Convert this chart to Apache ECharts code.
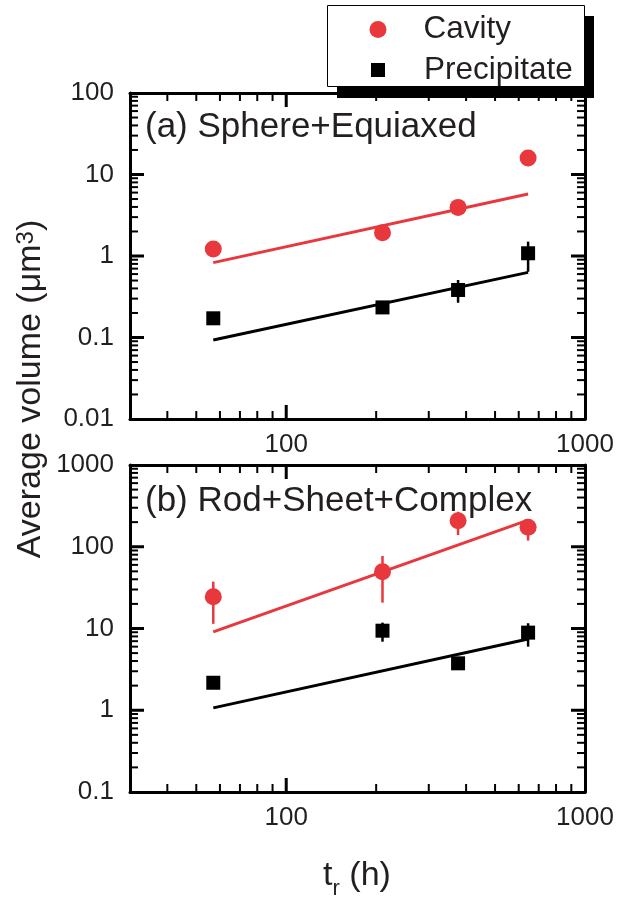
<!DOCTYPE html>
<html><head><meta charset="utf-8">
<script src="https://cdn.jsdelivr.net/npm/echarts@6/dist/echarts.min.js"></script>
<style>html,body{margin:0;padding:0;background:#fff}#c{width:619px;height:898px}</style>
</head><body><div id="c"></div>
<script>
// ---- data ----
const tHours = [57, 210, 376, 645];
// panel (a) Sphere+Equiaxed
const cavA = [1.22, 1.93, 3.95, 15.9];
const precA = [0.172, 0.234, 0.383, 1.08];
const precALow = [0.15, 0.22, 0.267, 0.64];
const precAHigh = [0.19, 0.25, 0.508, 1.50];
// panel (b) Rod+Sheet+Complex
const cavB = [24.5, 49.5, 208, 173];
const cavBLow = [11.4, 20.7, 139, 119];
const cavBHigh = [37.4, 77, 268, 218];
const precB = [2.17, 9.4, 3.75, 8.9];
const precBLow = [1.95, 6.9, 3.5, 6.0];
const precBHigh = [2.4, 11.8, 4.0, 11.6];
// fitted lines
const fitT = [57, 645];
const fitCavA = [0.83, 5.77];
const fitPrecA = [0.093, 0.63];
const fitCavB = [9.1, 212];
const fitPrecB = [1.07, 7.45];
// axes
const xRange = [30, 1000];
const xMajor = [100, 1000];
const xMajorLabels = ['100', '1000'];
const xMinor = [40, 50, 60, 70, 80, 90, 200, 300, 400, 500, 600, 700, 800, 900];
const yTicksA = [0.01, 0.1, 1, 10, 100];
const yLabelsA = ['0.01', '0.1', '1', '10', '100'];
const yTicksB = [0.1, 1, 10, 100, 1000];
const yLabelsB = ['0.1', '1', '10', '100', '1000'];
const minorMult = [2, 3, 4, 5, 6, 7, 8, 9];

// ---- style ----
const FONT = '"Liberation Sans", Arial, Helvetica, sans-serif';
const TXT = '#231f20';
const RED = '#e8373d';
const BLK = '#000';
const MAJ_LEN = 14, MIN_LEN = 8;

function minorsOf(ticks) {
  const out = [];
  for (let i = 0; i < ticks.length - 1; i++) minorMult.forEach(m => out.push(+(ticks[i] * m).toPrecision(6)));
  return out;
}
function fmt(v, vals, labels) {
  for (let i = 0; i < vals.length; i++) if (Math.abs(Math.log10(v) - Math.log10(vals[i])) < 1e-6) return labels[i];
  return '';
}
function lineOn() { return {show: true, onZero: false, lineStyle: {color: BLK, width: 3}}; }

function xAxesFor(g) {
  const mk = () => ({type: 'log', logBase: 10, min: xRange[0], max: xRange[1], gridIndex: g,
    splitLine: {show: false}, minorSplitLine: {show: false}, minorTick: {show: false},
    axisLine: lineOn(), axisTick: {show: false}});
  return [
    Object.assign(mk(), {position: 'bottom',
      axisLabel: {show: true, customValues: xMajor, margin: 13, fontSize: 26, color: TXT, fontFamily: FONT,
        formatter: v => fmt(v, xMajor, xMajorLabels)}}),
    Object.assign(mk(), {position: 'top', axisLabel: {show: false}})
  ];
}
function yAxesFor(g, ticks, labels) {
  const mk = () => ({type: 'log', logBase: 10, min: ticks[0], max: ticks[ticks.length - 1], gridIndex: g,
    splitLine: {show: false}, minorSplitLine: {show: false}, minorTick: {show: false},
    axisLine: lineOn(), axisTick: {show: false}});
  return [
    Object.assign(mk(), {position: 'left',
      axisLabel: {show: true, customValues: ticks, margin: 16, fontSize: 26, color: TXT, fontFamily: FONT,
        formatter: v => fmt(v, ticks, labels)}}),
    Object.assign(mk(), {position: 'right', axisLabel: {show: false}})
  ];
}

// inward tick marks. Items are interior points [x, y]; the tick value is placed through the
// axis' own log scale and the frame edge is found with api.coord at the axis limits.
function tickSeries(xi, yi, yTicks, pts, side, len, width) {
  const yLo = yTicks[0], yHi = yTicks[yTicks.length - 1];
  return {type: 'custom', xAxisIndex: xi, yAxisIndex: yi, z: 3, silent: true,
    encode: {x: 0, y: 1}, data: pts,
    renderItem: (params, api) => {
      const vx = api.value(0), vy = api.value(1);
      const p = api.coord([vx, vy]);
      let x1, y1, x2, y2;
      if (side === 'L' || side === 'R') {
        x1 = api.coord([side === 'L' ? xRange[0] : xRange[1], vy])[0];
        x2 = side === 'L' ? x1 + len : x1 - len;
        y1 = y2 = p[1];
      } else {
        y1 = api.coord([vx, side === 'B' ? yLo : yHi])[1];
        y2 = side === 'B' ? y1 - len : y1 + len;
        x1 = x2 = p[0];
      }
      return {type: 'line', shape: {x1: x1, y1: y1, x2: x2, y2: y2}, style: {stroke: BLK, lineWidth: width}};
    }};
}
function allTicks(xi, yi, yTicks) {
  const xMid = Math.sqrt(xRange[0] * xRange[1]);
  const yMid = Math.sqrt(yTicks[0] * yTicks[yTicks.length - 1]);
  const inner = vals => vals.filter(v => v > yTicks[0] && v < yTicks[yTicks.length - 1]);
  const yMaj = inner(yTicks), yMin = minorsOf(yTicks);
  const xMaj = xMajor.filter(v => v > xRange[0] && v < xRange[1]);
  const yPts = vals => vals.map(v => [xMid, v]);
  const xPts = vals => vals.map(v => [v, yMid]);
  return [
    tickSeries(xi, yi, yTicks, yPts(yMaj), 'L', MAJ_LEN, 3),
    tickSeries(xi, yi, yTicks, yPts(yMaj), 'R', MAJ_LEN, 3),
    tickSeries(xi, yi, yTicks, yPts(yMin), 'L', MIN_LEN, 2),
    tickSeries(xi, yi, yTicks, yPts(yMin), 'R', MIN_LEN, 2),
    tickSeries(xi, yi, yTicks, xPts(xMaj), 'B', MAJ_LEN, 3),
    tickSeries(xi, yi, yTicks, xPts(xMaj), 'T', MAJ_LEN, 3),
    tickSeries(xi, yi, yTicks, xPts(xMinor), 'B', MIN_LEN, 2),
    tickSeries(xi, yi, yTicks, xPts(xMinor), 'T', MIN_LEN, 2)
  ];
}
function errSeries(xi, yi, xs, lo, hi, color) {
  return {type: 'custom', xAxisIndex: xi, yAxisIndex: yi, z: 3, silent: true,
    data: xs.map((t, i) => [t, lo[i], hi[i]]), encode: {x: 0, y: [1, 2]},
    renderItem: (params, api) => {
      const p1 = api.coord([api.value(0), api.value(1)]);
      const p2 = api.coord([api.value(0), api.value(2)]);
      return {type: 'line', shape: {x1: p1[0], y1: p1[1], x2: p2[0], y2: p2[1]}, style: {stroke: color, lineWidth: 2.5}};
    }};
}
function fitSeries(name, xi, yi, ys, color) {
  return {type: 'line', name: name, xAxisIndex: xi, yAxisIndex: yi, z: 2, symbol: 'none', silent: true,
    data: fitT.map((t, i) => [t, ys[i]]), lineStyle: {color: color, width: 3}};
}
function ptSeries(name, xi, yi, ys, symbol, size, color) {
  return {type: 'scatter', name: name, xAxisIndex: xi, yAxisIndex: yi, z: 5, symbol: symbol, symbolSize: size,
    data: tHours.map((t, i) => [t, ys[i]]), itemStyle: {color: color, opacity: 1}};
}

const option = {
  backgroundColor: '#fff',
  animation: false,
  textStyle: {fontFamily: FONT},
  grid: [
    {left: 130, top: 93, width: 455, height: 326, containLabel: false, outerBoundsMode: 'none'},
    {left: 130, top: 465, width: 455, height: 327, containLabel: false, outerBoundsMode: 'none'}
  ],
  xAxis: xAxesFor(0).concat(xAxesFor(1)),
  yAxis: yAxesFor(0, yTicksA, yLabelsA).concat(yAxesFor(1, yTicksB, yLabelsB)),
  legend: [
    {data: [{name: 'Cavity', icon: 'circle'}], left: 369.5, top: 13.5, itemWidth: 17, itemHeight: 17, padding: 0, z: 20,
      selectedMode: false, formatter: n => '{t|' + n + '}',
      textStyle: {fontSize: 31.5, color: TXT, fontFamily: FONT, rich: {t: {fontSize: 31.5, color: TXT, fontFamily: FONT, padding: [0, 0, 0, 32]}}}},
    {data: [{name: 'Precipitate', icon: 'rect'}], left: 371, top: 54, itemWidth: 14, itemHeight: 14, padding: 0, z: 20,
      selectedMode: false, formatter: n => '{t|' + n + '}',
      textStyle: {fontSize: 31.5, color: TXT, fontFamily: FONT, rich: {t: {fontSize: 31.5, color: TXT, fontFamily: FONT, padding: [0, 0, 0, 34]}}}}
  ],
  graphic: [
    {type: 'rect', z: 10, left: 337, top: 16, shape: {width: 257, height: 82}, style: {fill: '#000'}},
    {type: 'rect', z: 11, left: 327, top: 5, shape: {width: 257, height: 81}, style: {fill: '#fff', stroke: '#000', lineWidth: 1}},
    {type: 'text', z: 12, x: 145, y: 127, style: {text: '(a) Sphere+Equiaxed', fontSize: 35, fontFamily: FONT, fill: TXT, align: 'left', verticalAlign: 'middle'}},
    {type: 'text', z: 12, x: 145, y: 501, style: {text: '(b) Rod+Sheet+Complex', fontSize: 35, fontFamily: FONT, fill: TXT, align: 'left', verticalAlign: 'middle'}},
    {type: 'text', z: 12, x: 31, y: 389, rotation: Math.PI / 2,
      style: {text: 'Average volume (μm{s|3})', fontSize: 34, fontFamily: FONT, fill: TXT, align: 'center', verticalAlign: 'middle',
        rich: {s: {fontSize: 24, fontFamily: FONT, fill: TXT, verticalAlign: 'top'}}}},
    {type: 'text', z: 12, x: 357, y: 876,
      style: {text: '{a|t}{b|r}{a| (h)}', fontSize: 34, fontFamily: FONT, fill: TXT, align: 'center', verticalAlign: 'middle',
        rich: {a: {fontSize: 34, fontFamily: FONT, fill: TXT}, b: {fontSize: 22, fontFamily: FONT, fill: TXT, padding: [26, 0, 0, 0], verticalAlign: 'bottom'}}}}
  ],
  series: [].concat(
    [
      fitSeries('Cavity fit a', 0, 0, fitCavA, RED),
      fitSeries('Precipitate fit a', 0, 0, fitPrecA, BLK),
      errSeries(0, 0, tHours, precALow, precAHigh, BLK)
    ],
    allTicks(0, 0, yTicksA),
    [
      ptSeries('Cavity', 0, 0, cavA, 'circle', 17, RED),
      ptSeries('Precipitate', 0, 0, precA, 'rect', 14, BLK),
      fitSeries('Cavity fit b', 2, 2, fitCavB, RED),
      fitSeries('Precipitate fit b', 2, 2, fitPrecB, BLK),
      errSeries(2, 2, tHours, cavBLow, cavBHigh, RED),
      errSeries(2, 2, tHours, precBLow, precBHigh, BLK)
    ],
    allTicks(2, 2, yTicksB),
    [
      ptSeries('Cavity', 2, 2, cavB, 'circle', 17, RED),
      ptSeries('Precipitate', 2, 2, precB, 'rect', 14, BLK)
    ]
  )
};
const chart = echarts.init(document.getElementById('c'), null, {renderer: 'canvas'});
chart.setOption(option);
</script>
</body></html>
